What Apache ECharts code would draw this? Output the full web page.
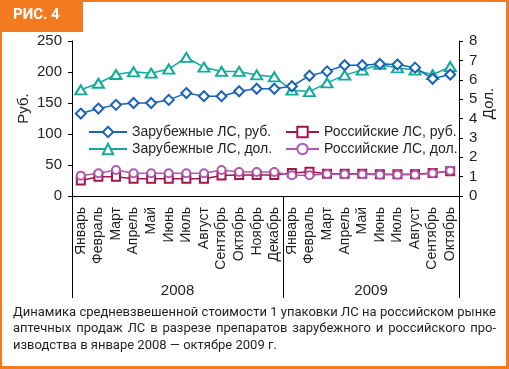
<!DOCTYPE html>
<html><head><meta charset="utf-8">
<script src="https://cdn.jsdelivr.net/npm/echarts@6/dist/echarts.min.js"></script>
<style>html,body{margin:0;padding:0;background:#fff}#c{width:509px;height:369px}</style>
</head><body><div id="c"></div>
<script>
const months = ['Январь','Февраль','Март','Апрель','Май','Июнь','Июль','Август','Сентябрь','Октябрь','Ноябрь','Декабрь',
                'Январь','Февраль','Март','Апрель','Май','Июнь','Июль','Август','Сентябрь','Октябрь'];
const years = ['2008','2009'];
const yearMonths = [12, 10];
const foreignRub = [133,141,147,150,150,155,166,161,161,169,173,173,177,194,201,211,211,213,212,207,189,196];
const foreignDol = [5.48,5.82,6.27,6.41,6.34,6.55,7.15,6.65,6.43,6.43,6.25,6.15,5.46,5.39,5.84,6.24,6.5,6.79,6.61,6.5,6.26,6.68];
const russianRub = [25,31,31,28,28,28,28,28,33,34,34,34,37,39,36,36,36,35,35,35,37,40];
const russianDol = [1.05,1.17,1.34,1.17,1.17,1.17,1.17,1.17,1.34,1.24,1.24,1.24,1.07,1.07,1.13,1.12,1.12,1.1,1.1,1.1,1.17,1.3];
const seriesNames = ['Зарубежные ЛС, руб.','Зарубежные ЛС, дол.','Российские ЛС, руб.','Российские ЛС, дол.'];
const captionLines = [
  'Динамика средневзвешенной стоимости 1 упаковки ЛС на российском рынке',
  'аптечных продаж ЛС в разрезе препаратов зарубежного и российского про-',
  'изводства в январе 2008 — октябре 2009 г.'
];
const figLabel = 'РИС. 4';

// boundary axis: one slot per month boundary, year name at middle of its block
const boundaryLabels = [];
const boundaryTicks = [0];
let acc = 0;
for (let i = 0; i <= months.length; i++) boundaryLabels.push('');
yearMonths.forEach((n, k) => { boundaryLabels[acc + n / 2] = years[k]; acc += n; boundaryTicks.push(acc); });

const TXT = '#231f20';
const ORANGE = '#f47a20';
const FONT = 'Liberation Sans';
const C_BLUE = '#1b63b8', C_TEAL = '#14aa9b', C_RED = '#a3164c', C_PURP = '#b05aae';

// caption (justified lines except the last)
const CAP_FONT = '13px Roboto';
const capX = 13, capW = 483, capTops = [306, 322, 339];
const ctx = document.createElement('canvas').getContext('2d');
ctx.font = CAP_FONT;
const captionGraphics = [];
captionLines.forEach((line, li) => {
  if (li === captionLines.length - 1) {
    captionGraphics.push({type: 'text', left: capX, top: capTops[li], style: {text: line, fill: TXT, font: CAP_FONT}});
    return;
  }
  const words = line.split(' ');
  const widths = words.map(w => ctx.measureText(w).width);
  const total = widths.reduce((a, b) => a + b, 0);
  const gap = (capW - total) / (words.length - 1);
  let x = capX;
  words.forEach((w, i) => {
    captionGraphics.push({type: 'text', x: x, y: capTops[li], style: {text: w, fill: TXT, font: CAP_FONT, textVerticalAlign: 'top'}});
    x += widths[i] + gap;
  });
});

const chart = echarts.init(document.getElementById('c'), null, {renderer: 'canvas'});
chart.setOption({
  animation: false,
  textStyle: {fontFamily: FONT, color: TXT},
  grid: {left: 72, right: 50, top: 41, bottom: 173},
  legend: [
    {left: 83, top: 120, orient: 'vertical', itemWidth: 38, itemHeight: 13, itemGap: 3,
     textStyle: {fontSize: 14, color: TXT, fontFamily: FONT, lineHeight: 14},
     data: [seriesNames[0], seriesNames[1]]},
    {left: 280, top: 120, orient: 'vertical', itemWidth: 33, itemHeight: 13, itemGap: 3,
     textStyle: {fontSize: 14, color: TXT, fontFamily: FONT, lineHeight: 14},
     data: [seriesNames[2], seriesNames[3]]}
  ],
  xAxis: [
    {type: 'category', data: months, boundaryGap: true, position: 'bottom',
     axisLine: {lineStyle: {color: '#000', width: 1}},
     axisTick: {interval: 0, length: 77, lineStyle: {color: '#000'}},
     axisLabel: {interval: 0, rotate: 90, fontSize: 14, margin: 11, color: TXT, fontFamily: FONT}},
    {type: 'category', data: boundaryLabels, boundaryGap: false, position: 'bottom',
     axisLine: {show: false},
     axisTick: {show: true, length: 102, interval: (i) => boundaryTicks.indexOf(i) >= 0, lineStyle: {color: '#000'}},
     axisLabel: {interval: 0, fontSize: 15, margin: 87, color: TXT, fontFamily: FONT}}
  ],
  yAxis: [
    {type: 'value', min: 0, max: 250, interval: 50, position: 'left',
     name: 'Руб.', nameLocation: 'middle', nameGap: 41, nameRotate: 90, nameMoveOverlap: false,
     nameTextStyle: {fontSize: 15, color: TXT, padding: [0, 0, 0, 20]},
     axisLine: {show: true, lineStyle: {color: '#000'}},
     axisTick: {show: true, length: 4, lineStyle: {color: '#000'}},
     splitLine: {show: false},
     axisLabel: {fontSize: 15, margin: 10, color: TXT}},
    {type: 'value', min: 0, max: 8, interval: 1, position: 'right',
     name: 'Дол.', nameLocation: 'middle', nameGap: 22, nameRotate: 90, nameMoveOverlap: false,
     nameTextStyle: {fontSize: 15, color: TXT, padding: [0, 0, 0, 30]},
     axisLine: {show: true, lineStyle: {color: '#000'}},
     axisTick: {show: true, length: 4, lineStyle: {color: '#000'}},
     splitLine: {show: false},
     axisLabel: {fontSize: 15, margin: 10, color: TXT}}
  ],
  series: [
    {name: seriesNames[2], type: 'line', yAxisIndex: 0, data: russianRub, color: C_RED,
     symbol: 'emptyRect', symbolSize: 8, lineStyle: {width: 1.5}, itemStyle: {borderWidth: 1.5}},
    {name: seriesNames[3], type: 'line', yAxisIndex: 1, data: russianDol, color: C_PURP,
     symbol: 'emptyCircle', symbolSize: 8, lineStyle: {width: 1.5}, itemStyle: {borderWidth: 1.5}},
    {name: seriesNames[1], type: 'line', yAxisIndex: 1, data: foreignDol, color: C_TEAL,
     symbol: 'emptyTriangle', symbolSize: [11, 9], lineStyle: {width: 1.5}, itemStyle: {borderWidth: 1.5}},
    {name: seriesNames[0], type: 'line', yAxisIndex: 0, data: foreignRub, color: C_BLUE,
     symbol: 'emptyDiamond', symbolSize: 10, lineStyle: {width: 1.5}, itemStyle: {borderWidth: 1.5}}
  ],
  graphic: [
    {type: 'rect', z: -10, silent: true, shape: {x: 0, y: 0, width: 509, height: 369}, style: {fill: ORANGE}},
    {type: 'rect', z: -9, silent: true, shape: {x: 2, y: 2, width: 504, height: 364}, style: {fill: '#fff'}},
    {type: 'rect', z: -8, silent: true, shape: {x: 0, y: 0, width: 83, height: 32}, style: {fill: ORANGE}},
    {type: 'text', left: 13, top: 8, style: {text: figLabel, fill: '#fff', font: 'bold 15px Roboto'}}
  ].concat(captionGraphics)
});
</script></body></html>
